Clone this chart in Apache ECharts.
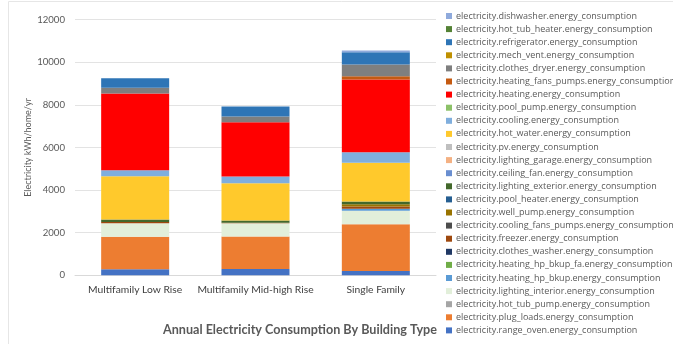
<!DOCTYPE html>
<html>
<head>
<meta charset="utf-8">
<script src="https://cdn.jsdelivr.net/npm/echarts@6/dist/echarts.min.js"></script>
<style>html,body{margin:0;padding:0;background:#fff;}#c{width:673px;height:344px;}</style>
</head>
<body>
<div id="c"></div>
<script>
const categories = ["Multifamily Low Rise", "Multifamily Mid-high Rise", "Single Family"];
const yTicks = [0, 2000, 4000, 6000, 8000, 10000, 12000];

// series listed bottom of stack -> top
const range_oven = [280, 300, 200];
const plug_loads = [1530, 1520, 2200];
const hot_tub_pump = [0, 0, 0];
const lighting_interior = [630, 620, 625];
const heating_hp_bkup = [0, 0, 95];
const heating_hp_bkup_fa = [0, 0, 0];
const clothes_washer = [0, 0, 0];
const freezer = [60, 30, 110];
const cooling_fans_pumps = [0, 0, 0];
const well_pump = [0, 0, 110];
const pool_heater = [0, 0, 0];
const lighting_exterior = [120, 100, 120];
const ceiling_fan = [0, 0, 0];
const lighting_garage = [0, 0, 0];
const pv = [0, 0, 0];
const hot_water = [2030, 1750, 1820];
const cooling = [280, 315, 500];
const pool_pump = [0, 0, 0];
const heating = [3600, 2550, 3410];
const heating_fans_pumps = [0, 0, 155];
const clothes_dryer = [280, 270, 550];
const mech_vent = [0, 0, 0];
const refrigerator = [440, 470, 580];
const hot_tub_heater = [0, 0, 0];
const dishwasher = [0, 0, 80];

const seriesDefs = [
  ["range_oven", range_oven, "#4472C4"],
  ["plug_loads", plug_loads, "#ED7D31"],
  ["hot_tub_pump", hot_tub_pump, "#A5A5A5"],
  ["lighting_interior", lighting_interior, "#E2EFDA"],
  ["heating_hp_bkup", heating_hp_bkup, "#5B9BD5"],
  ["heating_hp_bkup_fa", heating_hp_bkup_fa, "#70AD47"],
  ["clothes_washer", clothes_washer, "#203864"],
  ["freezer", freezer, "#9E480E"],
  ["cooling_fans_pumps", cooling_fans_pumps, "#4D4D4D"],
  ["well_pump", well_pump, "#997300"],
  ["pool_heater", pool_heater, "#255E91"],
  ["lighting_exterior", lighting_exterior, "#43682B"],
  ["ceiling_fan", ceiling_fan, "#698ED0"],
  ["lighting_garage", lighting_garage, "#F4B183"],
  ["pv", pv, "#BFBFBF"],
  ["hot_water", hot_water, "#FFC92C"],
  ["cooling", cooling, "#7FAEDD"],
  ["pool_pump", pool_pump, "#8CC168"],
  ["heating", heating, "#FF0000"],
  ["heating_fans_pumps", heating_fans_pumps, "#C55A11"],
  ["clothes_dryer", clothes_dryer, "#7F7F7F"],
  ["mech_vent", mech_vent, "#BF9000"],
  ["refrigerator", refrigerator, "#2E75B6"],
  ["hot_tub_heater", hot_tub_heater, "#548235"],
  ["dishwasher", dishwasher, "#8FAADC"]
];

const fullName = n => "electricity." + n + ".energy_consumption";

const series = seriesDefs.map(([n, d, c]) => ({
  name: fullName(n),
  type: "bar",
  stack: "total",
  data: d,
  barWidth: 68,
  itemStyle: { color: c },
  emphasis: { disabled: true }
}));

const chart = echarts.init(document.getElementById("c"), null, { renderer: "canvas" });
chart.setOption({
  animation: false,
  backgroundColor: "#fff",
  grid: { left: 75, right: 237, top: 19.7, bottom: 68.7, containLabel: false },
  xAxis: {
    type: "category",
    data: categories,
    axisLine: { lineStyle: { color: "#D9D9D9" } },
    axisTick: { show: false },
    axisLabel: { color: "#404040", fontSize: 10.3, fontFamily: "Lato", margin: 9, interval: 0 }
  },
  yAxis: {
    type: "value",
    min: yTicks[0],
    max: yTicks[yTicks.length - 1],
    interval: 2000,
    name: "Electricity kWh/home/yr",
    nameLocation: "middle",
    nameGap: 42,
    nameMoveOverlap: false,
    nameTextStyle: { color: "#595959", fontSize: 9, fontFamily: "Lato" },
    axisLine: { show: false },
    axisTick: { show: false },
    splitLine: { lineStyle: { color: "#E3E3E3" } },
    axisLabel: { color: "#595959", fontSize: 9.6, fontFamily: "Lato", margin: 10, formatter: v => String(v) }
  },
  legend: {
    orient: "vertical",
    left: 446,
    top: 10,
    padding: 0,
    height: 334,
    itemWidth: 6,
    itemHeight: 6,
    itemGap: 1.1,
    icon: "rect",
    data: seriesDefs.map(s => fullName(s[0])).reverse(),
    textStyle: { color: "#595959", fontSize: 9, fontFamily: "Open Sans", lineHeight: 12, padding: [0, 0, 0, -1] }
  },
  title: {
    text: "Annual Electricity Consumption By Building Type",
    left: 295,
    textAlign: "center",
    top: 318,
    textStyle: { color: "#595959", fontSize: 12.6, fontWeight: "bold", fontFamily: "Lato" }
  },
  graphic: [{
    type: "rect",
    shape: { x: 8.5, y: 1.5, width: 680, height: 360 },
    style: { fill: "none", stroke: "#E6E6E6", lineWidth: 1 },
    silent: true
  }],
  series: series
});
</script>
</body>
</html>
